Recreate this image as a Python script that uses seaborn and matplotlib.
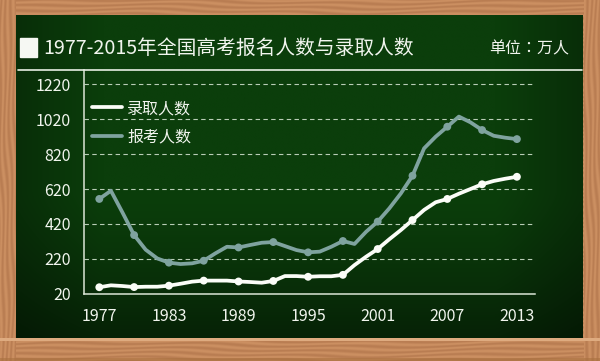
import numpy as np
import pandas as pd
import matplotlib
matplotlib.use("Agg")
import matplotlib.pyplot as plt
from matplotlib.patches import Rectangle
from matplotlib.lines import Line2D
import seaborn as sns

# ---------------- data (万人) ----------------
years = list(range(1977, 2014))
applicants = [563, 610, 485, 356, 272, 222, 198, 190, 194, 209, 251, 289, 285,
              299, 312, 316, 293, 270, 257, 261, 289, 322, 305, 375, 433, 509,
              595, 696, 853, 920, 977, 1035, 1002, 958, 925, 914, 906]
admitted = [57, 68, 64, 58, 60, 60, 66, 77, 89, 95, 95, 95, 90, 87, 83, 93,
            121, 121, 117, 120, 120, 128, 184, 232, 276, 332, 385, 442, 500,
            544, 563, 593, 620, 647, 666, 679, 690]
series_names = ["录取人数", "报考人数"]
title = "1977-2015年全国高考报名人数与录取人数"
unit = "单位：万人"
y_ticks = [20, 220, 420, 620, 820, 1020, 1220]
x_ticks = list(range(1977, 2014, 3))
x_labels = [str(y) if (y - 1977) % 6 == 0 else "" for y in x_ticks]

df = pd.DataFrame({"year": years * 2,
                   "value": admitted + applicants,
                   "series": [series_names[0]] * len(years) + [series_names[1]] * len(years)})
marker_df = df[(df["year"] - 1977) % 3 == 0]

sns.set_theme(style="white")
plt.rcParams["font.family"] = ["Noto Sans CJK SC", "DejaVu Sans"]

W, H = 600, 361
fig = plt.figure(figsize=(W / 100, H / 100), dpi=100)

# ---------------- background: wood frame + chalkboard ----------------
bg = fig.add_axes([0, 0, 1, 1])
bg.set_xlim(0, W)
bg.set_ylim(H, 0)
bg.axis("off")

yy, xx = np.mgrid[0:H, 0:W].astype(float)
grain_h = 0.5 + 0.5 * np.sin(yy * 1.3 + 2.5 * np.sin(xx * 0.013) + 1.5 * np.sin(xx * 0.041 + yy * 0.2))
grain_v = 0.5 + 0.5 * np.sin(xx * 1.3 + 2.5 * np.sin(yy * 0.017) + 1.5 * np.sin(yy * 0.05 + xx * 0.2))
side = (xx < 16) | (xx > 583)
grain = np.where(side, grain_v, grain_h)
base = np.array([204, 144, 98]) / 255.0
dark = np.array([166, 106, 66]) / 255.0
wood = base[None, None, :] * (1 - 0.5 * grain[..., None]) + dark[None, None, :] * (0.5 * grain[..., None])
bg.imshow(wood, extent=[0, W, H, 0], aspect="auto", zorder=0, interpolation="bilinear")

# chalk ledge highlight
bg.add_patch(Rectangle((0, 338), W, 3, color="#deab80", zorder=1, lw=0))
bg.add_patch(Rectangle((0, 358), W, 3, color="#a8703f", zorder=1, lw=0, alpha=0.6))

# green board gradient
gy, gx = np.mgrid[0:100, 0:100] / 99.0
vert = 1 - 0.45 * np.clip((gy - 0.55) / 0.45, 0, 1) ** 1.3
horiz = 1 - 0.25 * np.clip(np.abs(gx - 0.5) * 2 - 0.7, 0, 1) / 0.3
shade = vert * horiz
g_top = np.array([11, 62, 11]) / 255.0
board = g_top[None, None, :] * shade[..., None]
bg.imshow(board, extent=[16, 583, 338, 15], aspect="auto", zorder=2, interpolation="bilinear")

# title block
fig.patches.append(Rectangle((20 / W, 1 - 57 / H), 17 / W, 19 / H,
                             transform=fig.transFigure, color="#f6f8f3", zorder=5))
fig.text(43 / W, 1 - 48 / H, title, fontsize=14.2, color="#f1f5ee", va="center", ha="left")
fig.text(569 / W, 1 - 49 / H, unit, fontsize=11.5, color="#f1f5ee", va="center", ha="right",
         family=["Noto Sans CJK TC", "DejaVu Sans"])
fig.lines.append(Line2D([18 / W, 582 / W], [1 - 70 / H, 1 - 70 / H],
                        transform=fig.transFigure, color="#e8efe4", lw=1.2, zorder=5))

# ---------------- main axes ----------------
left, right, top, bottom = 84, 535, 70, 293.7
ax = fig.add_axes([left / W, 1 - bottom / H, (right - left) / W, (bottom - top) / H])
ax.patch.set_alpha(0)
px_per_year = 11.6
ax.set_xlim(1977 - (99.3 - left) / px_per_year, 1977 + (right - 99.3) / px_per_year)
ax.set_ylim(20, 20 + (bottom - top) / 0.1745)

palette = {series_names[0]: "#fbfdf8", series_names[1]: "#7fa39f"}
sns.lineplot(data=df, x="year", y="value", hue="series", palette=palette,
             linewidth=2.7, ax=ax, legend=False, zorder=4)
sns.scatterplot(data=marker_df, x="year", y="value", hue="series", palette=palette,
                s=32, linewidth=0, ax=ax, legend=False, zorder=5)

ax.set_xticks(x_ticks)
ax.set_xticklabels(x_labels)
ax.set_yticks(y_ticks)
ax.set_yticklabels([str(v) for v in y_ticks])
ax.set_xlabel("")
ax.set_ylabel("")

axis_col = "#dbe6d6"
for s in ["top", "right"]:
    ax.spines[s].set_visible(False)
for s in ["left", "bottom"]:
    ax.spines[s].set_visible(True)
    ax.spines[s].set_color(axis_col)
    ax.spines[s].set_linewidth(1.1)

ax.tick_params(axis="both", which="both", colors=axis_col, length=2.6, width=1,
               labelcolor="#f1f5ee", labelsize=11.5)
ax.tick_params(axis="x", direction="out", pad=7.5)
ax.tick_params(axis="y", direction="out", pad=7)

ax.yaxis.grid(True, linestyle=(0, (4, 3)), color="#b9cdb6", linewidth=0.8)
ax.xaxis.grid(False)
for gl in ax.get_ygridlines()[:1]:
    gl.set_visible(False)

# legend
handles = [Line2D([], [], color=palette[n], lw=2.7) for n in series_names]
leg = fig.legend(handles, series_names, loc="upper left",
                 bbox_to_anchor=(92 / W, 1 - 100 / H), frameon=False,
                 fontsize=11.5, handlelength=1.9, handletextpad=0.3,
                 labelspacing=0.72, borderpad=0, borderaxespad=0)
for t in leg.get_texts():
    t.set_color("#f1f5ee")

fig.savefig("out.png", dpi=100)
